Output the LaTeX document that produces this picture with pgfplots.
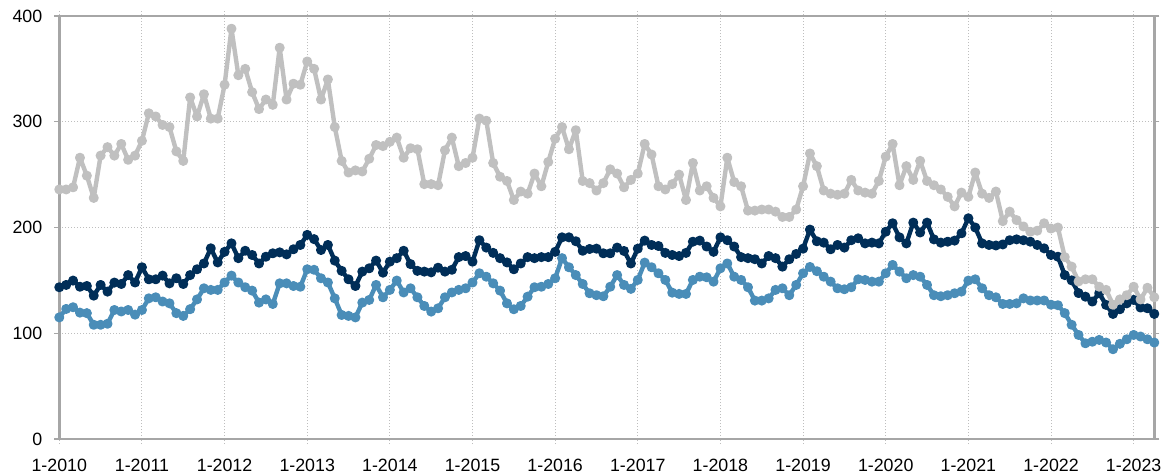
\documentclass[border=0pt]{standalone}
\usepackage{pgfplots}
\usepackage{pgfplotstable}
\pgfplotsset{compat=1.18}
\usepackage{fontspec}
\setmainfont{Liberation Sans}
\definecolor{cgray}{RGB}{192,192,192}
\definecolor{cnavy}{RGB}{0,46,88}
\definecolor{cblue}{RGB}{74,141,184}
\definecolor{caxis}{RGB}{166,166,166}
\definecolor{cgrid}{RGB}{190,190,190}
\pgfplotstableread{
i gray navy blue
0 236 143.5 115
1 236 145.7 123
2 238 149.8 124.6
3 266 144 119.5
4 249 144.7 119
5 228 135.6 108
6 268 145.7 108
7 276 139.4 109
8 268 147.9 122
9 279 146.6 120.6
10 264 155 122
11 268 148 117.6
12 282 162.4 122
13 308 151 133
14 305 151 134
15 297 154.5 130
16 295 147.2 128.3
17 272 152 119
18 263 146.6 116.4
19 323 155 122.8
20 305 160.5 132
21 326 166 142.5
22 303 180.3 141
23 303 167 141
24 335 177 148
25 388 185 154.5
26 344 171 148
27 350 178 143.5
28 328 174 140.3
29 312 166 129
30 321 172.4 132
31 316 175.6 127.7
32 370 176.5 147.2
33 321 174.6 147.2
34 336 179.4 144.7
35 335 183.5 144
36 357 193 160.5
37 350 189 160
38 321 178.7 152
39 340 183.5 148
40 295 168.7 133
41 263 159 117.3
42 252 151 116.4
43 254 144.7 115
44 253 158.3 129
45 265 161.4 131.5
46 278 168.7 145.7
47 277 157.3 134
48 281 167.7 141
49 285 171 149.8
50 266 178 138.6
51 275 165.4 142.5
52 274 159 134
53 241 158.3 125.8
54 241 157.6 120.5
55 240 162 123.6
56 273 158.3 134
57 285 160 138.6
58 258 172 141
59 261 173 142.5
60 266 167.7 148
61 303 188 156.7
62 301 181 153.5
63 261 176 147.2
64 248 171 140.3
65 244 167 128.3
66 226 160.5 122.7
67 234 166 125.8
68 232 172 134.6
69 251 171 143.5
70 239 172 144
71 262 172 146.6
72 284 177 152
73 295 190.7 171
74 274 190.7 162.4
75 292 187 155
76 244 178 146.6
77 242 179.7 137.8
78 235 180 136
79 242 175.6 135
80 255 175.6 144
81 251 181 155
82 238 177.8 145.7
83 245 166 142
84 251 180 150.4
85 279 187.6 166.8
86 269 183.5 162.4
87 239 182.5 156.7
88 236 176 150.4
89 241 174 138.4
90 250 173 137.2
91 226 176 137.2
92 261 186.6 150.4
93 235 187.6 153.5
94 239 182 152.9
95 228 177 148.8
96 220 190.7 161.4
97 266 188 166
98 243 182 153.5
99 239 172 150.4
100 216 171 143.5
101 216 170 130.9
102 217 166 130.9
103 217 173 133
104 215 171 141
105 210 163 142.5
106 210 170 136
107 217 175 145.7
108 239 180 156.7
109 270 198 162.7
110 258 187 158.7
111 235 185.7 153.5
112 232 179.4 148.8
113 231 183.5 142.5
114 232 181 141.6
115 245 188 143.5
116 235 189.8 151
117 233 185 150.4
118 232 185.7 148.8
119 244 185 148.8
120 267 196 156.7
121 279 204 164.6
122 240 190.7 158.3
123 258 185 152
124 245 204.6 155
125 263 195.3 153.5
126 244 204.6 145.7
127 240 188.8 136
128 236 185.7 135
129 229 186.6 136
130 220 187.6 137.8
131 233 194.5 139.4
132 229 208.7 149.8
133 252 200 151
134 232 185 142.5
135 228 183.5 136
136 234 183 134
137 206 184 127.7
138 215 188 127.7
139 207 188.8 128.3
140 201 188 133
141 196 186.6 131
142 197 183.5 131
143 204 180.3 131
144 199 174 127
145 200 172.4 126.5
146 172 155 119
147 163 150 108
148 149 138 98.4
149 151 134.6 90.5
150 151 130 92
151 144 137.8 93.7
152 141 126.8 91.2
153 127 118.3 84.9
154 132 122.7 90
155 136 128.3 94.3
156 144 131.5 98.4
157 132 124.3 96.9
158 143 123.6 94.3
159 134 118.3 91.2
}\datatable
\begin{document}
\begin{tikzpicture}
\begin{axis}[
  name=ax,
  scale only axis,
  width=547.5pt, height=211.5pt,
  xmin=0, xmax=159, ymin=0, ymax=400,
  xtick={0,12,...,156},
  xticklabels={1-2010,1-2011,1-2012,1-2013,1-2014,1-2015,1-2016,1-2017,1-2018,1-2019,1-2020,1-2021,1-2022,1-2023},
  ytick={0,100,200,300,400},
  grid=major,
  major grid style={draw=cgrid, line width=0.5pt, dash pattern=on 0.5pt off 1pt},
  axis line style={draw=caxis, line width=1.25pt},
  tick align=outside,
  major tick length=2.5pt,
  xtick style={draw=cgrid, line width=0.5pt, dash pattern=on 0.5pt off 1pt},
  ytick style={draw=caxis, line width=0.6pt},
  tick label style={font=\fontsize{8.9}{10}\selectfont, text=black},
  /pgf/number format/assume math mode=true,
  xticklabel style={inner sep=0pt, anchor=north, yshift=-7.5pt},
  yticklabel style={inner sep=0pt, anchor=east, xshift=-5.8pt},
  every axis plot/.append style={line width=2.2pt, line join=round, line cap=round, mark=*, mark size=2pt},
  clip=false,
]
\draw[caxis, line width=1.25pt] (rel axis cs:0,1) -- (rel axis cs:1,1);
\addplot[cblue, mark options={fill=cblue, draw=cblue, line width=1pt}] table[x=i, y=blue] {\datatable};
\addplot[cnavy, mark options={fill=cnavy, draw=cnavy, line width=1pt}] table[x=i, y=navy] {\datatable};
\addplot[cgray, mark options={fill=cgray, draw=cgray, line width=1pt}] table[x=i, y=gray] {\datatable};
\end{axis}
\pgfresetboundingbox
\path[use as bounding box] ([xshift=-29.65pt,yshift=-17pt]ax.south west) rectangle ([xshift=4.35pt,yshift=8pt]ax.north east);
\end{tikzpicture}
\end{document}
